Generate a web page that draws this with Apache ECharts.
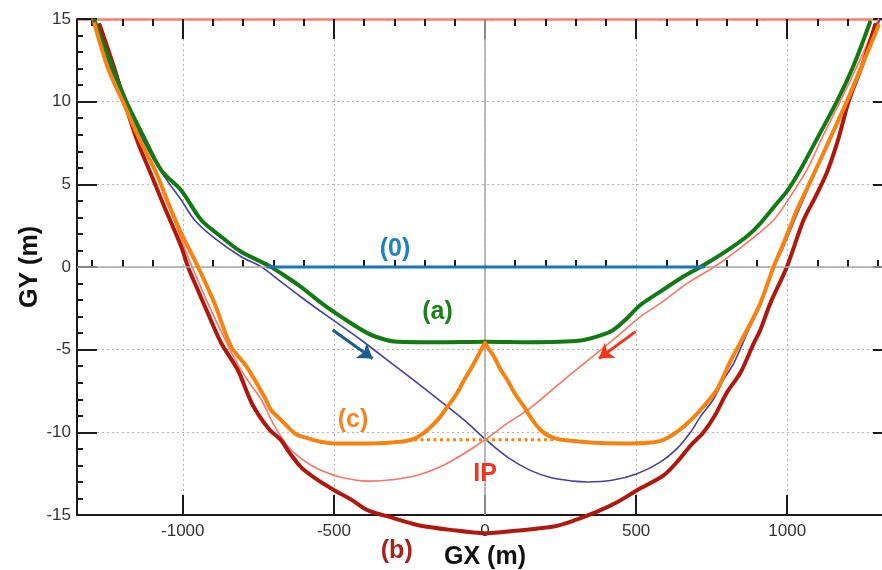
<!DOCTYPE html>
<html>
<head>
<meta charset="utf-8">
<script src="https://cdn.jsdelivr.net/npm/echarts@6/dist/echarts.min.js"></script>
<style>
  html, body { margin: 0; padding: 0; background: #ffffff; }
  #chart { width: 882px; height: 570px; }
</style>
</head>
<body>
<div id="chart"></div>
<script>
// Beam trajectories in the GX-GY plane (metres).

// (a) green trajectory
const curveA = [
  [-1292, 14.9], [-1231, 12.0], [-1187, 10.0], [-1130, 7.9], [-1071, 5.85], [-1005, 4.63],
  [-939, 2.84], [-873, 1.83], [-807, 0.92], [-719, 0.12], [-675, -0.38], [-609, -1.2],
  [-540, -2.2], [-477, -3.0], [-389, -4.0], [-330, -4.4], [-290, -4.52], [-150, -4.55],
  [0, -4.52], [150, -4.55], [316, -4.45], [380, -4.15], [425, -3.8], [470, -3.1],
  [514, -2.3], [580, -1.49], [650, -0.65], [724, 0.12], [812, 1.13], [870, 1.9],
  [911, 2.64], [966, 3.85], [1000, 4.6], [1043, 5.87], [1100, 7.8], [1164, 10.0],
  [1220, 12.2], [1274, 14.8]
];

// (b) dark red trajectory
const curveB = [
  [-1275, 14.64], [-1226, 12.0], [-1193, 10.0], [-1150, 7.6], [-1104, 5.57], [-1060, 3.6],
  [-1005, 1.23], [-983, 0.02], [-950, -1.4], [-917, -2.8], [-873, -4.6], [-818, -6.23],
  [-770, -8.3], [-715, -9.8], [-675, -10.47], [-653, -11.07], [-609, -12.1], [-560, -12.8],
  [-499, -13.5], [-440, -14.1], [-389, -14.7], [-300, -15.2], [-224, -15.6], [-114, -15.9],
  [0, -16.1], [100, -15.95], [227, -15.7], [300, -15.3], [371, -14.8], [440, -14.2],
  [503, -13.5], [591, -12.6], [640, -11.7], [680, -10.8], [723, -10.0], [760, -9.0],
  [800, -7.6], [845, -6.4], [889, -4.62], [911, -3.81], [944, -2.2], [999, 0.02],
  [1054, 2.84], [1092, 4.2], [1131, 5.7], [1170, 7.8], [1203, 10.0], [1250, 12.3],
  [1291, 14.64]
];

// (c) orange trajectory, left and right halves meeting at the cusp
const curveCLeft = [
  [-1292, 14.7], [-1247, 12.0], [-1198, 10.0], [-1145, 7.8], [-1088, 5.7], [-1040, 3.5],
  [-1005, 2.04], [-950, 0.02], [-895, -2.2], [-840, -4.82], [-790, -6.0], [-730, -7.85],
  [-708, -8.65], [-675, -9.26], [-640, -9.9], [-620, -10.17], [-587, -10.35], [-543, -10.57],
  [-499, -10.67], [-378, -10.67], [-279, -10.57], [-235, -10.4], [-200, -10.0], [-179, -9.66],
  [-150, -9.1], [-124, -8.45], [-95, -7.7], [-69, -6.84], [-45, -6.1], [-25, -5.43],
  [-10, -4.9], [0, -4.6]
];
const curveCRight = [
  [0, -4.6], [10, -4.9], [30, -5.43], [50, -6.15], [74, -6.84], [100, -7.7], [129, -8.45],
  [155, -9.2], [184, -9.86], [210, -10.2], [239, -10.4], [261, -10.47], [380, -10.65],
  [481, -10.67], [560, -10.6], [591, -10.45], [625, -10.1], [657, -9.66], [690, -9.1],
  [720, -8.5], [768, -7.4], [812, -5.7], [867, -3.81], [911, -2.2], [955, 0.02],
  [988, 1.43], [1032, 3.45], [1090, 5.7], [1145, 7.9], [1197, 10.0], [1250, 12.3],
  [1302, 14.6]
];

// (0) reference level
const line0 = [[-719, 0], [724, 0]];

// thin beam paths crossing at the interaction point
const pathBlue = [
  [-1299, 15], [-1245, 12.3], [-1190, 10.0], [-1130, 7.6], [-1066, 5.6], [-1005, 4.05],
  [-961, 2.84], [-895, 1.74], [-807, 0.62], [-741, 0.02], [-675, -0.9], [-610, -1.8],
  [-550, -2.6], [-480, -3.5], [-411, -4.4], [-300, -5.95], [-200, -7.35], [-124, -8.45],
  [-60, -9.4], [0, -10.4], [74, -11.5], [150, -12.3], [220, -12.75], [292, -12.95],
  [338, -13.0], [420, -12.9], [503, -12.5], [580, -11.8], [636, -10.97], [680, -10.0],
  [713, -9.05], [756, -8.0], [790, -6.8], [823, -5.83], [870, -3.9], [911, -2.3],
  [955, -0.1], [988, 1.23], [1035, 3.3], [1090, 5.6], [1145, 7.8], [1197, 10.0],
  [1255, 12.5], [1307, 15]
];
const pathSalmon = [
  [-1300, 15], [-1250, 12.3], [-1197, 10.0], [-1145, 7.8], [-1090, 5.7], [-1040, 3.4],
  [-983, 0.62], [-950, -0.8], [-917, -2.2], [-860, -4.4], [-815, -6.0], [-780, -7.0],
  [-741, -8.0], [-700, -9.5], [-650, -10.9], [-600, -11.7], [-554, -12.2], [-480, -12.7],
  [-389, -12.95], [-300, -12.85], [-224, -12.6], [-150, -12.1], [-80, -11.4],
  [0, -10.45], [70, -9.5], [145, -8.6], [260, -6.84], [371, -5.2], [450, -4.0],
  [514, -3.0], [580, -2.2], [669, -0.99], [768, 0.12], [878, 1.63], [955, 2.84],
  [1010, 4.26], [1065, 5.87], [1120, 8.0], [1175, 10.0], [1240, 12.5], [1302, 15]
];

// dotted level of (c) through IP
const dottedLevel = [[-235, -10.45], [239, -10.45]];

// direction arrows: [start, end]
const arrowBlue = [[-504, -3.81], [-372, -5.53]];
const arrowRed = [[498, -3.91], [377, -5.53]];

// text annotations and their anchors
const labelTexts = ['(0)', '(a)', '(c)', 'IP', '(b)'];
const labelAnchors = [[-298, 1.1], [-157, -2.72], [-437, -9.26], [0, -12.5], [-292, -17.2]];
const labelColors = ['#1f80c4', '#17801b', '#f5841f', '#ee3524', '#a5231b'];

// axis ticks
const xMinorTicks = [-1300, -1200, -1100, -900, -800, -700, -600, -400, -300, -200, -100,
  100, 200, 300, 400, 600, 700, 800, 900, 1100, 1200, 1300];

const FONT = '"Liberation Sans", Arial, Helvetica, sans-serif';
const TICK_COLOR = '#1a1a1a';
const GRID_DOT = { color: '#b4b4b4', width: 1, type: [2, 3] };

const chart = echarts.init(document.getElementById('chart'), null, { renderer: 'canvas' });

// plot frame extends slightly past the right edge of the canvas
const gridBox = { left: 77, top: 19, width: 816, height: 496, containLabel: false, outerBoundsMode: 'none' };

function lineSeries(data, color, width, z, extra) {
  return Object.assign({
    type: 'line',
    data: data,
    showSymbol: false,
    smooth: 0.3,
    clip: false,
    silent: true,
    z: z,
    lineStyle: { color: color, width: width, cap: 'round', join: 'round' }
  }, extra || {});
}

const plainNumber = function (v) { return String(v); };

const option = {
  animation: false,
  backgroundColor: '#ffffff',
  grid: [gridBox, gridBox],
  xAxis: [
    {
      type: 'value', gridIndex: 0, position: 'bottom', min: -1350, max: 1350,
      name: 'GX (m)', nameLocation: 'middle', nameGap: 30,
      nameTextStyle: { fontFamily: FONT, fontSize: 25, fontWeight: 'bold', color: '#111' },
      axisLine: { show: true, onZero: false, lineStyle: { color: TICK_COLOR, width: 2 } },
      axisTick: { show: true, inside: true, length: 20, lineStyle: { color: TICK_COLOR, width: 2 } },
      axisLabel: { show: true, showMinLabel: false, showMaxLabel: false, margin: 8,
        formatter: plainNumber, fontFamily: FONT, fontSize: 17, color: '#333' },
      splitLine: { show: true, lineStyle: GRID_DOT }
    },
    {
      type: 'value', gridIndex: 0, position: 'top', min: -1350, max: 1350,
      axisLine: { show: true, onZero: false, lineStyle: { color: '#ff7b6e', width: 2.5 } },
      axisTick: { show: true, inside: true, length: 20, lineStyle: { color: TICK_COLOR, width: 2 } },
      axisLabel: { show: false },
      splitLine: { show: false }
    },
    {
      type: 'value', gridIndex: 1, position: 'bottom', min: -1350, max: 1350,
      axisLine: { show: false },
      axisTick: { show: true, inside: true, length: 7, customValues: xMinorTicks,
        lineStyle: { color: TICK_COLOR, width: 2 } },
      axisLabel: { show: false },
      splitLine: { show: false }
    },
    {
      type: 'value', gridIndex: 1, position: 'top', min: -1350, max: 1350,
      axisLine: { show: false },
      axisTick: { show: true, inside: true, length: 7, customValues: xMinorTicks,
        lineStyle: { color: TICK_COLOR, width: 2 } },
      axisLabel: { show: false },
      splitLine: { show: false }
    }
  ],
  yAxis: [
    {
      type: 'value', gridIndex: 0, position: 'left', min: -15, max: 15, interval: 5,
      name: 'GY (m)', nameLocation: 'middle', nameGap: 34, nameRotate: 90,
      nameMoveOverlap: false,
      nameTextStyle: { fontFamily: FONT, fontSize: 25, fontWeight: 'bold', color: '#111' },
      axisLine: { show: true, onZero: false, lineStyle: { color: TICK_COLOR, width: 2 } },
      axisTick: { show: true, inside: true, length: 20, lineStyle: { color: TICK_COLOR, width: 2 } },
      minorTick: { show: true, splitNumber: 5, length: 6, lineStyle: { color: TICK_COLOR, width: 2 } },
      axisLabel: { show: true, margin: 6, formatter: plainNumber,
        fontFamily: FONT, fontSize: 17, color: '#333' },
      splitLine: { show: true, lineStyle: GRID_DOT }
    },
    {
      type: 'value', gridIndex: 0, position: 'right', min: -15, max: 15, interval: 5,
      axisLine: { show: true, onZero: false, lineStyle: { color: TICK_COLOR, width: 2 } },
      axisTick: { show: true, inside: true, length: 20, lineStyle: { color: TICK_COLOR, width: 2 } },
      minorTick: { show: true, splitNumber: 5, length: 6, lineStyle: { color: TICK_COLOR, width: 2 } },
      axisLabel: { show: false },
      splitLine: { show: false }
    },
    {
      type: 'value', gridIndex: 1, min: -15, max: 15, show: false
    }
  ],
  series: [
    // zero lines of the plane
    {
      type: 'line', data: [], z: 1, silent: true,
      markLine: {
        silent: true, symbol: ['none', 'none'], label: { show: false },
        lineStyle: { color: '#a8a8a8', width: 1.6, type: 'solid' },
        data: [{ xAxis: 0 }, { yAxis: 0 }]
      }
    },
    lineSeries(pathBlue, '#4a3f9c', 1.6, 3),
    lineSeries(pathSalmon, '#ff7466', 1.6, 3),
    lineSeries(curveB, '#b1180d', 4, 4),
    lineSeries(curveA, '#127a12', 4, 5),
    lineSeries(line0, '#1b74b8', 3, 5, { smooth: false }),
    lineSeries(curveCLeft, '#f7820f', 4, 6),
    lineSeries(curveCRight, '#f7820f', 4, 6),
    lineSeries(dottedLevel, '#f7820f', 3, 6, {
      smooth: false,
      lineStyle: { color: '#f7820f', width: 3, type: [3, 3.5], cap: 'butt' }
    }),
    // direction arrows
    {
      type: 'line', data: [], z: 7, silent: true,
      markLine: {
        silent: true, symbol: ['none', 'arrow'], symbolSize: 14, label: { show: false },
        data: [
          [{ coord: arrowBlue[0], lineStyle: { color: '#1c5d8e', width: 3, type: 'solid' } },
           { coord: arrowBlue[1] }],
          [{ coord: arrowRed[0], lineStyle: { color: '#f2381c', width: 3, type: 'solid' } },
           { coord: arrowRed[1] }]
        ]
      }
    },
    // curve labels
    {
      type: 'scatter', z: 8, silent: true, clip: false,
      symbolSize: 1, itemStyle: { color: 'rgba(255,255,255,0)', opacity: 1 },
      data: labelTexts.map(function (t, i) {
        return {
          name: t, value: labelAnchors[i],
          label: { color: labelColors[i] }
        };
      }),
      label: {
        show: true, position: 'inside', formatter: '{b}',
        fontFamily: FONT, fontSize: 25, fontWeight: 'bold'
      }
    }
  ]
};

chart.setOption(option);
</script>
</body>
</html>
